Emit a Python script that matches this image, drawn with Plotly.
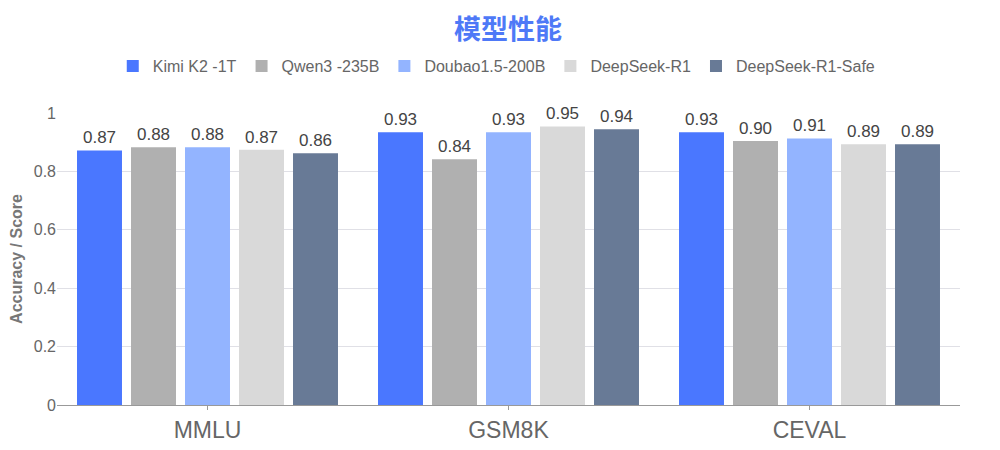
import plotly.graph_objects as go

categories = ["MMLU", "GSM8K", "CEVAL"]
series_names = ["Kimi K2 -1T", "Qwen3 -235B", "Doubao1.5-200B", "DeepSeek-R1", "DeepSeek-R1-Safe"]
kimi = [0.872, 0.934, 0.934]
qwen = [0.883, 0.842, 0.904]
doubao = [0.883, 0.934, 0.913]
deepseek = [0.874, 0.954, 0.893]
safe = [0.862, 0.944, 0.893]
series_values = [kimi, qwen, doubao, deepseek, safe]
colors = ["#4a77ff", "#b0b0b0", "#93b4ff", "#d9d9d9", "#687a96"]
y_ticks = [0, 0.2, 0.4, 0.6, 0.8, 1]
y_tick_labels = ["0", "0.2", "0.4", "0.6", "0.8", "1"]

fig = go.Figure()
for name, vals, c in zip(series_names, series_values, colors):
    fig.add_trace(go.Bar(
        x=categories, y=vals, name=name,
        marker=dict(color=c, line=dict(width=0)),
        texttemplate="%{y:.2f}", textposition="outside",
        textfont=dict(size=17, color="#444444", family="Liberation Sans"),
        cliponaxis=False,
    ))

# page body has an 8px margin, so figure coords are offset by 8px
fig.update_layout(
    width=1000, height=450,
    paper_bgcolor="white", plot_bgcolor="white",
    margin=dict(l=49, r=48, t=105, b=53, autoexpand=False),
    barmode="group", bargap=0.103, bargroupgap=0.167,
    font=dict(family="Liberation Sans", color="#666666"),
    title=dict(text="<b>模型性能</b>", x=0.5, xanchor="center", y=0.952, yanchor="middle",
               font=dict(family="Noto Sans CJK SC", size=27, color="#4e79f7")),
    legend=dict(orientation="h", x=0.487, xanchor="center", y=1.161, yanchor="middle",
                font=dict(size=16, color="#666666"), itemwidth=30, traceorder="normal"),
)
fig.update_yaxes(range=[0, 1], tickvals=y_ticks, ticktext=y_tick_labels, automargin=False,
                 showgrid=True, gridcolor="#e0e0e6", gridwidth=1, zeroline=False,
                 tickfont=dict(size=16, color="#666666"), ticks="",
                 title=dict(text="<b>Accuracy / Score</b>", font=dict(size=16, color="#777777"), standoff=7))
fig.update_xaxes(showline=True, linecolor="#999999", linewidth=1, ticks="outside", ticklen=4,
                 tickcolor="#999999", tickfont=dict(size=23, color="#666666"), automargin=False,
                 showgrid=False)

fig.write_html("out.html")
